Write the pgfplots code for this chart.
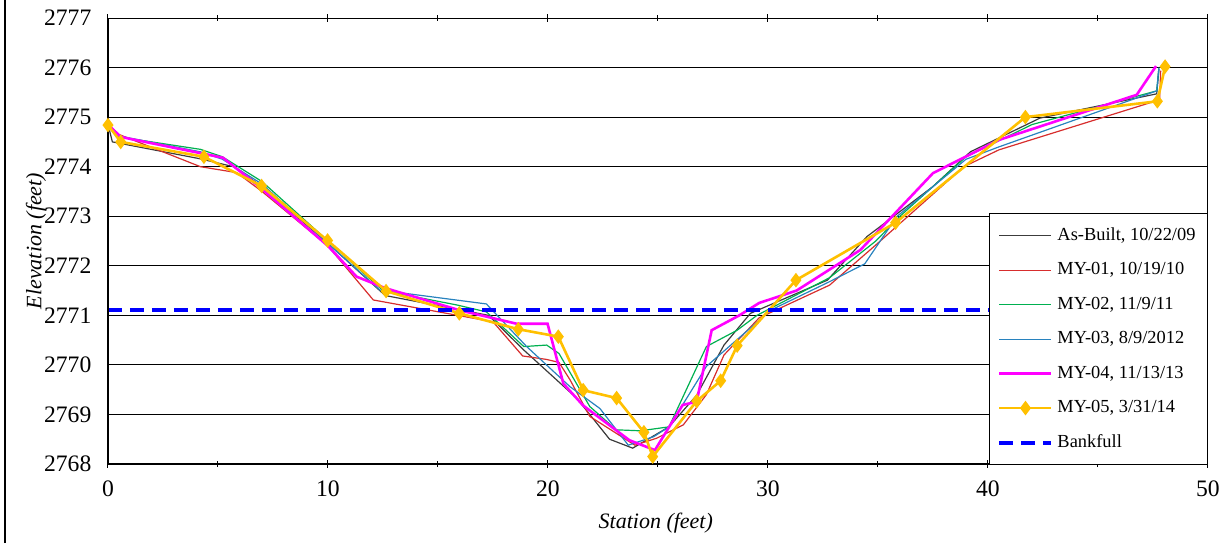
\documentclass[border=0pt]{standalone}
\usepackage{pgfplots}
\pgfplotsset{compat=1.18}
\usepackage{fontspec}
\setmainfont{Liberation Serif}
\definecolor{cBlack}{RGB}{60,60,60}
\definecolor{cRed}{RGB}{215,45,45}
\definecolor{cGreen}{RGB}{0,176,80}
\definecolor{cBlue}{RGB}{40,130,190}
\definecolor{cMag}{RGB}{255,0,255}
\definecolor{cYel}{RGB}{255,192,0}
\definecolor{cBank}{RGB}{0,0,255}
\begin{document}
\begin{tikzpicture}
\path[use as bounding box] (-54pt,-39.5pt) rectangle (557.5pt,232pt);
\draw[line width=0.6pt] (-51.5pt,-39.5pt) -- (-51.5pt,232pt);
\begin{axis}[
  scale only axis, width=550pt, height=223pt,
  xmin=0, xmax=50, ymin=2768, ymax=2777,
  xtick={0,10,...,50}, ytick={2768,2769,...,2777},
  minor x tick num=1, minor y tick num=1,
  ymajorgrids, major grid style={black, line width=0.5pt},
  axis line style={line width=0.5pt},
  tick style={black, line width=0.5pt},
  xtick align=center, ytick align=inside,
  major tick length=4pt, minor tick length=3pt,
  /pgf/number format/set thousands separator={},
  /pgf/number format/assume math mode=true,
  tick label style={font=\fontsize{11.8}{13}\selectfont},
  xticklabel style={yshift=-3pt},
  yticklabel style={xshift=-4.8pt},
  label style={font=\fontsize{11}{13}\selectfont\itshape},
  xlabel={Station (feet)}, ylabel={Elevation (feet)},
  xlabel style={at={(axis description cs:0.498,-0.132)}, anchor=center},
  ylabel style={at={(axis description cs:-0.0655,0.5)}, anchor=center},
  legend style={at={(1,-0.003)}, anchor=south east, draw=black, fill=white,
    font=\fontsize{9.2}{11}\selectfont, row sep=5.6pt, inner xsep=4pt, inner ysep=5pt,
    line width=0.5pt},
  legend cell align=left,
  legend image code/.code={\draw[mark repeat=2,mark phase=2] plot coordinates {(0pt,0pt) (13pt,0pt) (26pt,0pt)};},
]
% As-Built
\addplot[cBlack, line width=0.6pt] coordinates {
(0,2774.85) (0.2,2774.5) (4.18,2774.16) (5.7,2774.0) (7.0,2773.6) (10,2772.45)
(12.6,2771.4) (17.3,2771.0) (18.9,2770.3) (21.3,2769.33) (22.8,2768.5) (23.85,2768.32)
(25.5,2768.75) (26.76,2769.39) (28.0,2770.4) (29.2,2771.04) (32.7,2771.71) (34.5,2772.59)
(37.5,2773.6) (39.2,2774.3) (42.36,2774.98) (47.67,2775.47) (47.77,2775.97)};
\addlegendentry{As-Built, 10/22/09}
% MY-01
\addplot[cRed, line width=0.6pt] coordinates {
(0,2774.85) (0.5,2774.65) (4.2,2774.0) (5.85,2773.88) (7.0,2773.5) (10,2772.4)
(12.06,2771.31) (17.5,2770.87) (18.85,2770.18) (19.94,2770.11) (20.5,2770.05) (21.0,2769.7)
(21.9,2768.96) (23.95,2768.38) (24.94,2768.52) (26.15,2768.79) (27.2,2769.4) (28.0,2770.2)
(29.6,2770.95) (32.8,2771.61) (34.9,2772.42) (38.9,2774.0) (40.5,2774.34) (47.8,2775.35)
(47.85,2775.94)};
\addlegendentry{MY-01, 10/19/10}
% MY-02
\addplot[cGreen, line width=0.6pt] coordinates {
(0,2774.85) (0.5,2774.6) (4.2,2774.35) (5.2,2774.2) (7.0,2773.7) (10,2772.5)
(12.5,2771.5) (15.85,2771.21) (17.2,2771.07) (18.9,2770.37) (19.94,2770.4) (20.5,2770.23)
(21.9,2769.16) (23.1,2768.69) (24.2,2768.67) (25.5,2768.75) (27.2,2770.37) (28.6,2770.7)
(29.5,2771.0) (32.8,2771.76) (34.9,2772.5) (36,2773.0) (39,2774.2) (42,2774.85)
(47.67,2775.53) (47.77,2776.0)};
\addlegendentry{MY-02, 11/9/11}
% MY-03
\addplot[cBlue, line width=0.6pt] coordinates {
(0,2774.85) (0.5,2774.62) (4.2,2774.3) (5.2,2774.15) (7.0,2773.65) (10,2772.45)
(12.36,2771.51) (17.2,2771.23) (19.03,2770.37) (21.0,2769.56) (22.36,2769.12) (23.65,2768.38)
(24.8,2768.55) (25.5,2768.75) (27.2,2769.97) (29.6,2770.9) (30.1,2771.1) (32.8,2771.68)
(34.4,2772.04) (35.85,2772.99) (39,2774.15) (40.5,2774.4) (47.67,2775.53) (47.77,2776.0)};
\addlegendentry{MY-03, 8/9/2012}
% MY-04
\addplot[cMag, line width=1.3pt] coordinates {
(0,2774.85) (0.58,2774.6) (5.23,2774.18) (7.0,2773.55) (10,2772.4) (11.3,2771.78)
(12.6,2771.55) (16,2771.1) (18.58,2770.83) (19.98,2770.83) (20.7,2769.62) (21.6,2769.18)
(23.7,2768.48) (24.86,2768.28) (26.12,2769.19) (26.76,2769.26) (27.44,2770.7) (28.7,2771.0)
(29.6,2771.25) (31.3,2771.5) (34.2,2772.32) (37.5,2773.87) (40.5,2774.54) (46.76,2775.45)
(47.64,2776.03)};
\addlegendentry{MY-04, 11/13/13}
% MY-05
\addplot[cYel, line width=1.3pt, mark=diamond*, mark size=2.6pt, mark options={solid, fill=cYel}] coordinates {
(0,2774.84) (0.58,2774.5) (4.36,2774.2) (6.98,2773.61) (9.98,2772.51) (12.64,2771.49)
(15.97,2771.04) (18.65,2770.72) (20.47,2770.57) (21.6,2769.49) (23.12,2769.33) (24.36,2768.64)
(24.76,2768.15) (26.76,2769.27) (27.85,2769.68) (28.6,2770.39) (31.27,2771.71) (35.8,2772.87)
(41.7,2775.0) (47.7,2775.32) (48.05,2776.02)};
\addlegendentry{MY-05, 3/31/14}
% Bankfull
\addplot[cBank, line width=2pt, dash pattern=on 7pt off 4pt] coordinates {(0,2771.1) (50,2771.1)};
\addlegendentry{Bankfull}
\draw[black, line width=1pt] (rel axis cs:0,1) -- (rel axis cs:0,0) -- (rel axis cs:1,0);
\end{axis}
\end{tikzpicture}
\end{document}
